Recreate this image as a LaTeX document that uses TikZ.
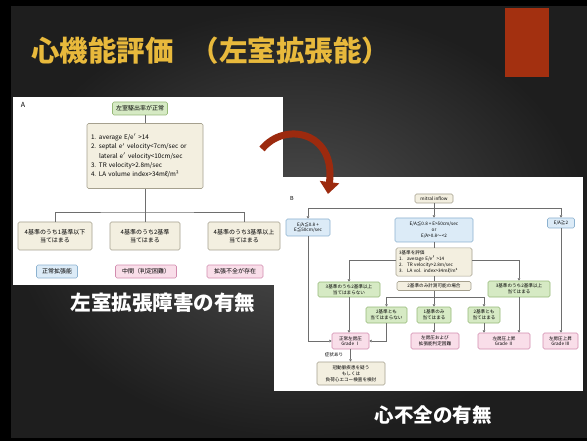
\documentclass[tikz,border=0pt]{standalone}
\usepackage{fontspec}
\setmainfont{Noto Sans CJK JP}
\usetikzlibrary{arrows.meta}
\definecolor{titlegold}{RGB}{232,185,60}
\definecolor{slidered}{RGB}{163,48,16}
\definecolor{arrowred}{RGB}{156,42,14}
\definecolor{gfill}{RGB}{214,234,196}
\definecolor{gdraw}{RGB}{150,185,120}
\definecolor{bfill}{RGB}{220,235,247}
\definecolor{bdraw}{RGB}{140,178,208}
\definecolor{efill}{RGB}{243,239,224}
\definecolor{edraw}{RGB}{165,160,142}
\definecolor{pfill}{RGB}{249,222,233}
\definecolor{pdraw}{RGB}{210,140,175}
\definecolor{linegray}{RGB}{110,110,110}
\begin{document}
\begin{tikzpicture}[x=1pt,y=-1pt,
  basebox/.style={rounded corners=1.5pt, line width=0.6pt, align=center, inner sep=1pt},
  fontA/.style={font=\fontsize{6}{7.6}\selectfont},
  fontB/.style={font=\fontsize{4.6}{5.8}\selectfont},
  gbox/.style={basebox, fill=gfill, draw=gdraw},
  bbox/.style={basebox, fill=bfill, draw=bdraw},
  ebox/.style={basebox, fill=efill, draw=edraw},
  pbox/.style={basebox, fill=pfill, draw=pdraw},
  conA/.style={draw=linegray, line width=0.9pt},
  conB/.style={draw=linegray, line width=0.6pt},
  arrB/.style={conB, -{Triangle[width=2.6pt,length=2.4pt]}},
  slidetext/.style={text=white, font=\bfseries\fontsize{20.5}{24}\selectfont}
]
\useasboundingbox (0,0) rectangle (587,441);
% slide background
\fill[black] (0,0) rectangle (587,441);
\shade[inner color={rgb,255:red,78;green,78;blue,78}, outer color={rgb,255:red,30;green,30;blue,30}] (11,7) rectangle (587,437);
\fill[slidered] (505,8) rectangle (549,77);
\node[anchor=west, text=titlegold, font=\bfseries\fontsize{28.5}{31}\selectfont, inner sep=0pt] (title) at (31,51) {心機能評価\hspace{0.6em}（左室拡張能）};

% panels
\fill[white] (274,177) rectangle (583,391);
\fill[white] (13,97) rectangle (283,285);

\node[slidetext] (capA) at (163,303) {左室拡張障害の有無};
\node[slidetext, font=\bfseries\fontsize{19.5}{22}\selectfont] (capB) at (433,415) {心不全の有無};

% ---------- Panel A ----------
\node[font=\fontsize{7}{8}\selectfont, inner sep=0pt] (labA) at (23,105) {A};
\node[gbox, fontA, minimum width=55pt, minimum height=13pt] (topA) at (140,108.5) {左室駆出率が正常};
\node[ebox, font=\fontsize{6.3}{9.4}\selectfont, align=left, text width=108pt, inner sep=4pt, minimum height=65pt] (bigA) at (145,156)
 {\makebox[8pt][l]{1.}average E/e$'$ >14\\
  \makebox[8pt][l]{2.}septal e$'$ velocity<7cm/sec or\\
  \hspace*{8pt}lateral e$'$ velocity<10cm/sec\\
  \makebox[8pt][l]{3.}TR velocity>2.8m/sec\\
  \makebox[8pt][l]{4.}LA volume index>34mℓ/m²};
\node[ebox, fontA, minimum width=74pt, minimum height=28pt] (a1) at (55,236) {4基準のうち1基準以下\\当てはまる};
\node[ebox, fontA, minimum width=70pt, minimum height=28pt] (a2) at (145,236) {4基準のうち2基準\\当てはまる};
\node[ebox, fontA, minimum width=72pt, minimum height=28pt] (a3) at (244,236) {4基準のうち3基準以上\\当てはまる};
\node[bbox, fontA, minimum width=41pt, minimum height=13pt] (r1) at (57,271.5) {正常拡張能};
\node[pbox, fontA, minimum width=61pt, minimum height=13pt] (r2) at (146,271.5) {中間（判定困難）};
\node[pbox, fontA, minimum width=56pt, minimum height=13pt] (r3) at (235,271.5) {拡張不全が存在};
\coordinate (jA) at (145,212);
\draw[conA] (topA.south -| bigA.north) -- (bigA.north);
\draw[conA] (bigA.south) -- (jA);
\draw[conA] (a1.north) |- (jA) -| (a3.north);
\draw[conA] (jA) -- (a2.north);

% ---------- Panel B ----------
\node[font=\fontsize{5.5}{6}\selectfont, inner sep=0pt] (labB) at (292,198) {B};
\node[ebox, fontB, minimum width=38pt, minimum height=9pt] (mi) at (434,198.5) {mitral inflow};
\node[bbox, fontB, minimum width=44pt, minimum height=17pt] (b1) at (308,227.5) {E/A≦0.8 +\\E≦50cm/sec};
\node[bbox, fontB, minimum width=78pt, minimum height=24pt] (b2) at (434,230) {E/A≦0.8 + E>50cm/sec\\or\\E/A>0.8～<2};
\node[bbox, fontB, minimum width=27pt, minimum height=10pt] (b3) at (561,223) {E/A≧2};
\node[ebox, fontB, align=left, text width=70pt, inner sep=3pt, minimum height=28pt] (c) at (434,262)
 {3基準を評価\\
  \makebox[8pt][l]{1.}average E/e$'$ >14\\
  \makebox[8pt][l]{2.}TR velocity>2.8m/sec\\
  \makebox[8pt][l]{3.}LA vol. index>34mℓ/m²};
\node[gbox, fontB, minimum width=62pt, minimum height=15pt] (g1) at (349,289.5) {3基準のうち2基準以上\\当てはまらない};
\node[ebox, fontB, minimum width=74pt, minimum height=9pt] (m2) at (434,286) {2基準のみ計測可能の場合};
\node[gbox, fontB, minimum width=62pt, minimum height=16pt] (g2) at (519,289) {3基準のうち2基準以上\\当てはまる};
\node[gbox, fontB, minimum width=41pt, minimum height=16pt] (h1) at (386.5,315) {2基準とも\\当てはまらない};
\node[gbox, fontB, minimum width=34pt, minimum height=16pt] (h2) at (434,315) {1基準のみ\\当てはまる};
\node[gbox, fontB, minimum width=32pt, minimum height=16pt] (h3) at (484,315) {2基準とも\\当てはまる};
\node[pbox, fontB, minimum width=37pt, minimum height=16pt] (p1) at (350.5,341) {正常左房圧\\Grade Ⅰ};
\node[pbox, fontB, minimum width=48pt, minimum height=16pt] (p2) at (435,341) {左房圧および\\拡張能判定困難};
\node[pbox, fontB, minimum width=52pt, minimum height=16pt] (p3) at (504,341) {左房圧上昇\\Grade Ⅱ};
\node[pbox, fontB, minimum width=35pt, minimum height=16pt] (p4) at (560.5,341) {左房圧上昇\\Grade Ⅲ};
\node[ebox, fontB, minimum width=68pt, minimum height=23pt] (q) at (351,373.5) {冠動脈疾患を疑う\\もしくは\\負荷心エコー検査を検討};
\node[fontB, inner sep=0pt] (sym) at (334,355) {症状あり};

\coordinate (jB1) at (434,208);
\coordinate (jB2) at (434,297);
\draw[conB] (mi.south) -- (jB1);
\draw[arrB] (jB1) -- (b2.north);
\draw[arrB] (jB1) -| (b1.north);
\draw[arrB] (jB1) -| (b3.north);
\draw[conB] (b2.south) -- (c.north);
\draw[arrB] (c.west |- 0,260) -| (g1.north);
\draw[arrB] (c.east |- 0,260) -| (g2.north);
\draw[conB] (c.south) -- (m2.north);
\draw[conB] (m2.south) -- (jB2);
\draw[arrB] (jB2) -- (h2.north);
\draw[arrB] (jB2) -| (h1.north);
\draw[arrB] (jB2) -| (h3.north);
\draw[arrB] (b1.south) |- (p1.west);
\draw[arrB] (g1.south) -- (g1.south |- p1.north);
\draw[arrB] (h1.south) |- (p1.east);
\draw[arrB] (h2.south) -- (h2.south |- p2.north);
\draw[arrB] (h3.south) -- (h3.south |- p3.north);
\draw[arrB] (g2.south) -- (g2.south |- p3.north);
\draw[arrB] (b3.south) -- (b3.south |- p4.north);
\draw[arrB] (p1.south) -- (p1.south |- q.north);

% curved red arrow
\coordinate (rs) at (262,149);
\coordinate (re) at (328,194);
\draw[arrowred, line width=7pt, -{Triangle[width=19pt,length=12pt]}] (rs) .. controls (285,121) and (336,132) .. (re);
\end{tikzpicture}
\end{document}
